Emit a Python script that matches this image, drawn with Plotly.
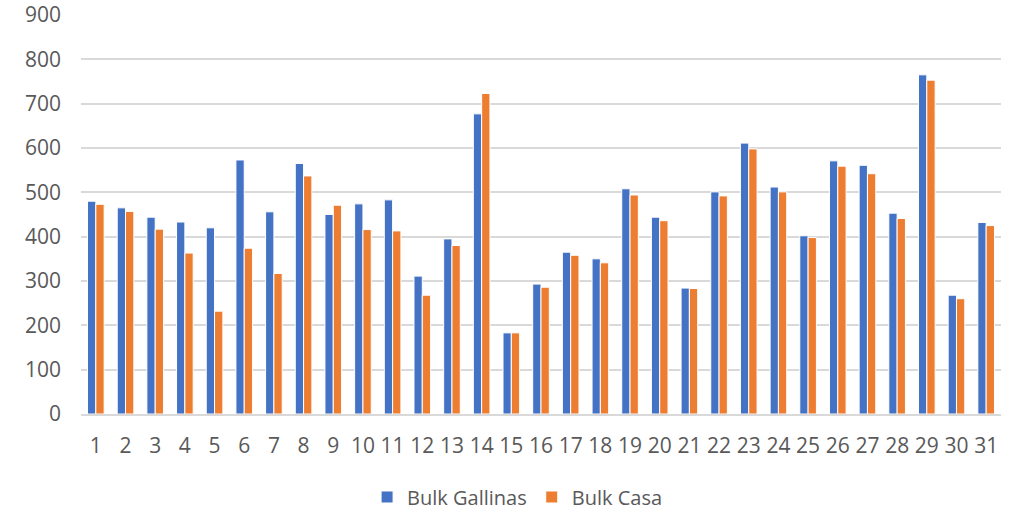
import plotly.graph_objects as go

days = [str(i) for i in range(1, 32)]
bulk_gallinas = [480, 465, 444, 433, 420, 573, 456, 565, 450, 474, 483, 311, 395, 677, 183,
                 293, 365, 350, 508, 444, 284, 501, 611, 512, 402, 571, 561, 453, 765, 268, 432]
bulk_casa = [473, 457, 417, 363, 232, 374, 317, 537, 471, 416, 413, 268, 380, 723, 183,
             286, 358, 341, 494, 436, 283, 492, 598, 501, 398, 559, 542, 441, 753, 260, 425]
y_ticks = list(range(0, 1000, 100))

fig = go.Figure()
fig.add_trace(go.Bar(x=days, y=bulk_gallinas, name="Bulk Gallinas",
                     marker=dict(color="#4472C4", line=dict(color="white", width=1))))
fig.add_trace(go.Bar(x=days, y=bulk_casa, name="Bulk Casa",
                     marker=dict(color="#ED7D31", line=dict(color="white", width=1))))

fig.update_layout(
    width=1020, height=514,
    margin=dict(l=81, r=19, t=15, b=100, autoexpand=False),
    paper_bgcolor="white", plot_bgcolor="white",
    barmode="group", bargap=0.44, bargroupgap=0.0,
    font=dict(family="'Open Sans', sans-serif", size=21, color="#595959"),
    xaxis=dict(type="category", showgrid=False, showline=True, linecolor="#D9D9D9",
               linewidth=1.5, ticks="", tickfont=dict(size=21), ticklabelstandoff=12),
    yaxis=dict(range=[0, 900], tickvals=y_ticks, showgrid=True, gridcolor="#D9D9D9",
               gridwidth=1.5, zeroline=False, ticks="", ticklabelstandoff=19,
               tickfont=dict(size=21)),
    legend=dict(orientation="h", x=0.474, xanchor="center", y=-0.208, yanchor="middle",
                font=dict(size=20), itemwidth=30, traceorder="normal"),
)

fig.write_html("out.html")
